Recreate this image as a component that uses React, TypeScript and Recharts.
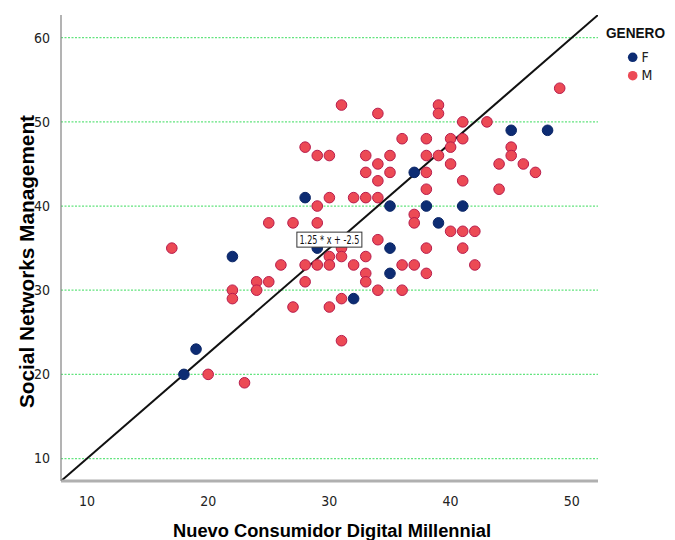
import React from 'react';
import { ScatterChart, Scatter, XAxis, YAxis, CartesianGrid, ReferenceLine, ReferenceDot, Label, Customized } from 'recharts';

const xTicks = [10, 20, 30, 40, 50];
const yTicks = [10, 20, 30, 40, 50, 60];
const xDomain = [7.86, 52.16];
const yDomain = [7.33, 62.7];

const fX = [18, 19, 22, 28, 29, 32, 35, 35, 35, 37, 38, 39, 41, 45, 48];
const fY = [20, 23, 34, 41, 35, 29, 40, 35, 32, 44, 40, 38, 40, 49, 49];

const mX = [17,20,22,22,23,24,24,25,25,26,27,27,28,28,28,29,29,29,29,30,30,30,30,30,31,31,31,31,31,32,32,33,33,33,33,33,33,34,34,34,34,34,34,35,35,36,36,36,37,37,37,38,38,38,38,38,38,39,39,39,40,40,40,40,41,41,41,41,41,42,42,43,44,44,45,45,46,47,49];
const mY = [35,20,30,29,19,31,30,38,31,33,38,28,47,33,31,46,40,38,33,46,41,34,33,28,52,35,34,29,24,41,33,46,44,41,34,32,31,51,45,43,41,36,30,46,44,48,33,30,39,38,33,48,46,44,42,35,32,52,51,46,48,47,45,37,50,48,43,37,35,37,33,50,45,42,47,46,45,44,54];

const fitSlope = 1.25;
const fitIntercept = -2.5;
const fitLabel = '1.25 * x + -2.5';
const fitLabelX = 30;

const legendTitle = 'GENERO';
const groups = [
  { name: 'F', fill: '#0d2c73', stroke: '#0a2566' },
  { name: 'M', fill: '#ec4a55', stroke: '#b81c4c' },
];

const fData = fX.map((x, i) => ({ x, y: fY[i] }));
const mData = mX.map((x, i) => ({ x, y: mY[i] }));

const narrow = "'Liberation Sans Narrow', 'DejaVu Sans Condensed', Arial, sans-serif";
const sans = "'Liberation Sans', Arial, sans-serif";

const dot = (fill: string, stroke: string) => (props: any) => (
  <circle cx={props.cx} cy={props.cy} r={5.3} fill={fill} stroke={stroke} strokeWidth={1} />
);

const LegendBlock = () => (
  <g>
    <text x={598} y={30} fontFamily={sans} fontWeight="bold" fontSize={14} fill="#111" textLength={59} lengthAdjust="spacingAndGlyphs">{legendTitle}</text>
    {groups.map((g, i) => (
      <g key={g.name}>
        <circle cx={624.7} cy={49.3 + i * 18.4} r={4.8} fill={g.fill} />
        <text x={633.5} y={54 + i * 18.4} fontFamily={narrow} fontSize={14} fill="#222">{g.name}</text>
      </g>
    ))}
  </g>
);

const FitLabelShape = (props: any) => {
  const { cx, cy } = props;
  const w = 65;
  const h = 15;
  return (
    <g>
      <rect x={cx - w / 2} y={cy - h - 1} width={w} height={h} fill="#fff" stroke="#333" strokeWidth={1} />
      <text x={cx} y={cy - 4.5} textAnchor="middle" fontFamily={narrow} fontSize={12} fill="#111" textLength={60} lengthAdjust="spacingAndGlyphs">{fitLabel}</text>
    </g>
  );
};

export default function App() {
  const seg = [
    { x: xDomain[0], y: fitSlope * xDomain[0] + fitIntercept },
    { x: xDomain[1], y: fitSlope * xDomain[1] + fitIntercept },
  ];
  return (
    <ScatterChart width={667} height={532} margin={{ top: 7, right: 77, bottom: 0, left: 0 }}>
      <CartesianGrid horizontal vertical={false} horizontalValues={yTicks} stroke="#62e47e" strokeDasharray="2 1.5" strokeWidth={1.3} />
      <XAxis
        type="number"
        dataKey="x"
        domain={xDomain}
        ticks={xTicks}
        allowDataOverflow
        height={59}
        tickLine={false}
        tickSize={13}
        tickMargin={2}
        axisLine={{ stroke: '#b0b0b0', strokeWidth: 3 }}
        tick={{ fontFamily: narrow, fontSize: 14, fill: '#222' }}
      >
        <Label
          content={(p: any) => {
            const vb = p.viewBox;
            return (
              <text x={vb.x + vb.width / 2 + 2.5} y={vb.y + 56} textAnchor="middle" fontFamily={sans} fontWeight="bold" fontSize={18} fill="#000" textLength={318} lengthAdjust="spacingAndGlyphs">
                Nuevo Consumidor Digital Millennial
              </text>
            );
          }}
        />
      </XAxis>
      <YAxis
        type="number"
        dataKey="y"
        domain={yDomain}
        ticks={yTicks}
        allowDataOverflow
        width={53}
        tickLine={false}
        tickSize={9}
        tickMargin={2}
        axisLine={{ stroke: '#808080', strokeWidth: 1.2 }}
        tick={{ fontFamily: narrow, fontSize: 14, fill: '#222' }}
      >
        <Label
          content={(p: any) => {
            const vb = p.viewBox;
            const cy = vb.y + vb.height / 2 + 13.5;
            return (
              <text x={26} y={cy} transform={`rotate(-90, 26, ${cy})`} textAnchor="middle" fontFamily={sans} fontWeight="bold" fontSize={20} fill="#000" textLength={293} lengthAdjust="spacingAndGlyphs">
                Social Networks Management
              </text>
            );
          }}
        />
      </YAxis>
      <Scatter name="F" data={fData} isAnimationActive={false} shape={dot(groups[0].fill, groups[0].stroke)} />
      <Scatter name="M" data={mData} isAnimationActive={false} shape={dot(groups[1].fill, groups[1].stroke)} />
      <ReferenceLine segment={seg} stroke="#111" strokeWidth={2} ifOverflow="hidden" />
      <ReferenceDot x={fitLabelX} y={fitSlope * fitLabelX + fitIntercept} r={0} ifOverflow="visible" shape={FitLabelShape} />
      <Customized component={LegendBlock} />
    </ScatterChart>
  );
}
